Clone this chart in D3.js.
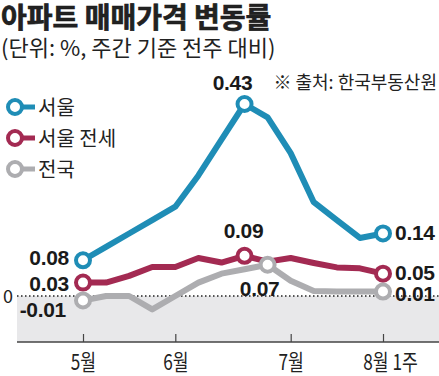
<!DOCTYPE html>
<html>
<head>
<meta charset="utf-8">
<script src="https://cdn.jsdelivr.net/npm/d3@7"></script>
<style>
  body { margin: 0; background: #fff; }
  svg { display: block; }
  text { font-family: "Noto Sans CJK KR", "Noto Sans", sans-serif; fill: #222; }
  .num { font-family: "Liberation Sans", Arial, sans-serif; font-weight: 700; font-size: 21px; fill: #1a1a1a; letter-spacing: -0.3px; }
</style>
</head>
<body>
<div id="graphics"></div>
<script>
// weekly data, 5월 1주 ~ 8월 1주
const weeks = d3.range(14);
const seoul = [0.08, 0.11, 0.14, 0.17, 0.20, 0.27, 0.35, 0.43, 0.40, 0.32, 0.21, 0.17, 0.13, 0.14];
const seoulJeonse = [0.03, 0.03, 0.045, 0.065, 0.065, 0.085, 0.075, 0.09, 0.077, 0.085, 0.074, 0.064, 0.062, 0.05];
const national = [-0.01, 0, 0, -0.03, 0, 0.03, 0.05, 0.06, 0.07, 0.034, 0.011, 0.01, 0.01, 0.01];

const tickWeeks = [0, 4, 9, 13];
const tickLabels = ['5월', '6월', '7월', '8월 1주'];

const seriesNames = ['서울', '서울 전세', '전국'];
const seriesColors = ['#1f8db6', '#a32a52', '#adadb0'];

const width = 439;
const height = 376;

const svg = d3.select('#graphics')
  .append('svg')
  .attr('width', width)
  .attr('height', height);

// Scales
const xPositionScale = d3.scaleLinear().domain([0, 13]).range([83, 383]);
const yPositionScale = d3.scaleLinear().domain([0, 0.43]).range([296, 104]);
const axisY = 342;

// titles
svg.append('text')
  .text('아파트 매매가격 변동률')
  .attr('x', 1).attr('y', 28)
  .attr('font-size', 28).attr('font-weight', 700)
  .attr('fill', '#1a1a1a')
  .attr('stroke', '#1a1a1a')
  .attr('stroke-width', 0.7);

svg.append('text')
  .text('(단위: %, 주간 기준 전주 대비)')
  .attr('x', 1).attr('y', 56)
  .attr('font-size', 22)
  .attr('fill', '#333');

svg.append('text')
  .text('※ 출처: 한국부동산원')
  .attr('x', 437).attr('y', 89)
  .attr('text-anchor', 'end')
  .attr('font-size', 18)
  .attr('fill', '#333');

// below-zero shading
svg.append('rect')
  .attr('x', 17)
  .attr('y', yPositionScale(0))
  .attr('width', width - 17)
  .attr('height', axisY - yPositionScale(0))
  .attr('fill', '#e8e8ea');

svg.append('line')
  .attr('x1', 17).attr('x2', width)
  .attr('y1', yPositionScale(0)).attr('y2', yPositionScale(0))
  .attr('stroke', '#222')
  .attr('stroke-width', 1.5)
  .attr('stroke-dasharray', '1.5,2.5');

svg.append('text')
  .text('0')
  .attr('x', 8).attr('y', yPositionScale(0) + 6.5)
  .attr('text-anchor', 'middle')
  .attr('font-family', 'Liberation Sans, Arial, sans-serif')
  .attr('font-size', 18)
  .attr('fill', '#333');

// x axis
svg.append('line')
  .attr('x1', 17).attr('x2', width)
  .attr('y1', axisY).attr('y2', axisY)
  .attr('stroke', '#444')
  .attr('stroke-width', 1.5);

const xOptions = d3.axisBottom(xPositionScale)
  .tickValues(tickWeeks)
  .tickFormat((d, i) => tickLabels[i])
  .tickSizeInner(-8)
  .tickSizeOuter(0);

const xAxis = svg.append('g')
  .attr('class', 'axis x-axis')
  .attr('transform', 'translate(0,' + axisY + ')')
  .call(xOptions);

xAxis.select('.domain').remove();
xAxis.selectAll('.tick line').attr('stroke', '#444').attr('stroke-width', 1.2);
xAxis.selectAll('.tick text')
  .attr('y', 28).attr('dy', 0)
  .attr('font-size', 22)
  .attr('fill', '#222')
  .attr('font-family', '"Noto Sans CJK KR", sans-serif')
  .attr('transform', 'scale(0.78,1)');
xAxis.selectAll('.tick').filter((d) => d === 13).select('text').attr('x', 9);

// lines
const line = d3.line()
  .x((d, i) => xPositionScale(weeks[i]))
  .y((d) => yPositionScale(d));

const allSeries = [seoulJeonse, national, seoul];
const allColors = [seriesColors[1], seriesColors[2], seriesColors[0]];

allSeries.forEach((s, k) => {
  svg.append('path')
    .datum(s)
    .attr('d', line)
    .attr('fill', 'none')
    .attr('stroke', allColors[k])
    .attr('stroke-width', 6)
    .attr('stroke-linejoin', 'round');
});

// marker circles: first, peak, last
function marker(s, i, color) {
  svg.append('circle')
    .attr('cx', xPositionScale(weeks[i]))
    .attr('cy', yPositionScale(s[i]))
    .attr('r', 7)
    .attr('fill', '#fff')
    .attr('stroke', color)
    .attr('stroke-width', 4);
}

marker(seoulJeonse, 0, seriesColors[1]);
marker(seoulJeonse, 7, seriesColors[1]);
marker(seoulJeonse, 13, seriesColors[1]);
marker(national, 0, seriesColors[2]);
marker(national, 8, seriesColors[2]);
marker(national, 13, seriesColors[2]);
marker(seoul, 0, seriesColors[0]);
marker(seoul, 7, seriesColors[0]);
marker(seoul, 13, seriesColors[0]);

// value labels
function label(s, i, text, anchor, dx, dy) {
  svg.append('text')
    .attr('class', 'num')
    .text(text)
    .attr('x', xPositionScale(weeks[i]) + dx)
    .attr('y', yPositionScale(s[i]) + dy)
    .attr('text-anchor', anchor);
}

label(seoul, 0, '0.08', 'end', -14, 5);
label(seoulJeonse, 0, '0.03', 'end', -14, 8.5);
label(national, 0, '-0.01', 'end', -17, 16.5);

label(seoul, 7, '0.43', 'middle', -12, -14.5);
label(seoulJeonse, 7, '0.09', 'middle', -1, -18);
label(national, 8, '0.07', 'middle', -8, 31);

label(seoul, 13, '0.14', 'start', 12, 7);
label(seoulJeonse, 13, '0.05', 'start', 12, 6.5);
label(national, 13, '0.01', 'start', 12, 9);

// legend
const legend = svg.append('g').attr('class', 'legend');
seriesNames.forEach((name, i) => {
  const cy = 107 + i * 31;
  legend.append('line')
    .attr('x1', 18).attr('x2', 35)
    .attr('y1', cy).attr('y2', cy)
    .attr('stroke', seriesColors[i])
    .attr('stroke-width', 5);
  legend.append('circle')
    .attr('cx', 15).attr('cy', cy)
    .attr('r', 7)
    .attr('fill', '#fff')
    .attr('stroke', seriesColors[i])
    .attr('stroke-width', 4);
  legend.append('text')
    .text(name)
    .attr('x', 38).attr('y', cy + 7.5)
    .attr('font-size', 20)
    .attr('fill', '#222');
});
</script>
</body>
</html>
